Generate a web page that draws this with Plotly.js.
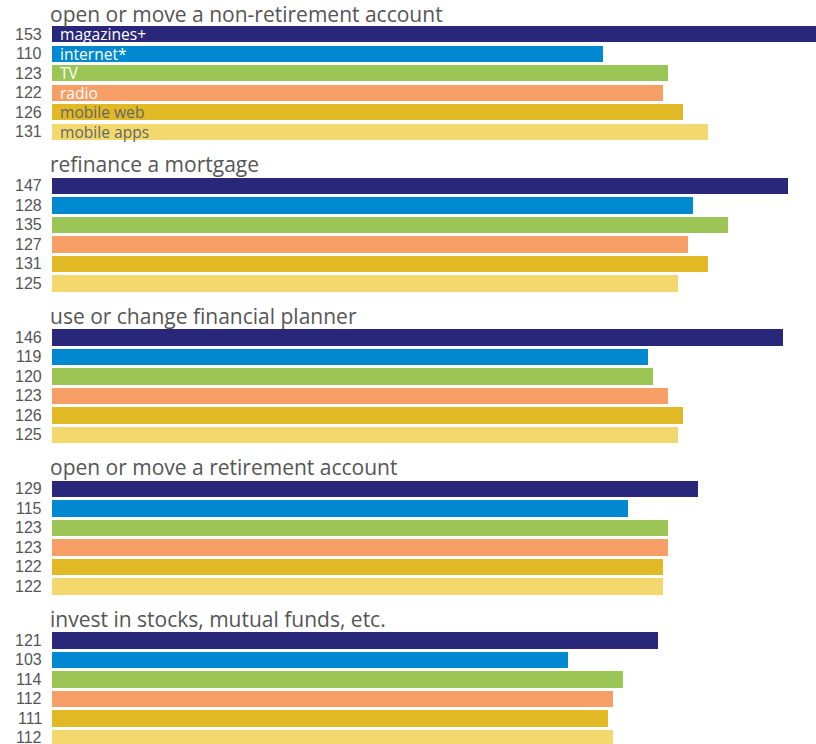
<!DOCTYPE html>
<html>
<head>
<meta charset="utf-8">
<script src="https://cdn.plot.ly/plotly-3.0.1.min.js"></script>
<style>
html,body{margin:0;padding:0;background:#fff;}
#chart{width:816px;height:744px;}
</style>
</head>
<body>
<div id="chart"></div>
<script>
// ---- data ----
const categories = [
  'open or move a non-retirement account',
  'refinance a mortgage',
  'use or change financial planner',
  'open or move a retirement account',
  'invest in stocks, mutual funds, etc.'
];
const media = ['magazines+', 'internet*', 'TV', 'radio', 'mobile web', 'mobile apps'];
const magazines  = [153, 147, 146, 129, 121];
const internet   = [110, 128, 119, 115, 103];
const tv         = [123, 135, 120, 123, 114];
const radio      = [122, 127, 123, 123, 112];
const mobileWeb  = [126, 131, 126, 122, 111];
const mobileApps = [131, 125, 125, 122, 112];
const seriesValues = [magazines, internet, tv, radio, mobileWeb, mobileApps];

// ---- styles ----
const colors = ['#29277a', '#0088d1', '#9bc554', '#f79e66', '#e1b925', '#f3d96d'];
const labelColors = ['#ffffff', '#ffffff', '#ffffff', '#ffffff', '#666666', '#666666'];
const GROUP = 7.77;          // group pitch in bar slots
const pos = (g, i) => g * GROUP + i;

const traces = media.map((m, i) => ({
  type: 'bar',
  orientation: 'h',
  name: m,
  x: seriesValues[i],
  y: categories.map((c, g) => pos(g, i)),
  width: 0.84,
  marker: {color: colors[i], line: {width: 0}},
  hoverinfo: 'x',
  showlegend: false
}));

const annotations = [];
// group titles
categories.forEach((c, g) => {
  annotations.push({
    xref: 'x', yref: 'y', x: 0, y: pos(g, 0) - (g === 0 ? 1.02 : 1.1),
    xanchor: 'left', yanchor: 'middle', xshift: -3, borderpad: 0,
    text: c, showarrow: false,
    font: {family: 'Open Sans, sans-serif', size: 21, color: '#555555'}
  });
});
// value labels
seriesValues.forEach((vals, i) => {
  vals.forEach((v, g) => {
    annotations.push({
      xref: 'x', yref: 'y', x: 0, y: pos(g, i),
      xanchor: 'right', yanchor: 'middle', xshift: -9, borderpad: 0,
      text: String(v), showarrow: false,
      font: {family: 'Liberation Sans, Arial, sans-serif', size: 16, color: '#555555'}
    });
  });
});
// in-bar media labels (first group)
media.forEach((m, i) => {
  annotations.push({
    xref: 'x', yref: 'y', x: 0, y: pos(0, i),
    xanchor: 'left', yanchor: 'middle', xshift: 7, borderpad: 0,
    text: m, showarrow: false,
    font: {family: 'Open Sans, sans-serif', size: 15.6, color: labelColors[i]}
  });
});

const PX = 19.5;
const top0 = 34.3 / PX;
const layout = {
  width: 816, height: 744,
  margin: {l: 51.5, r: 0, t: 0, b: 0, pad: 0},
  paper_bgcolor: '#ffffff', plot_bgcolor: '#ffffff',
  bargap: 0,
  xaxis: {range: [0, 152.5], visible: false, fixedrange: true},
  yaxis: {range: [(744 - 34.3) / PX, -top0], visible: false, fixedrange: true},
  annotations: annotations,
  showlegend: false
};

Plotly.newPlot('chart', traces, layout, {displayModeBar: false, staticPlot: true});
</script>
</body>
</html>
